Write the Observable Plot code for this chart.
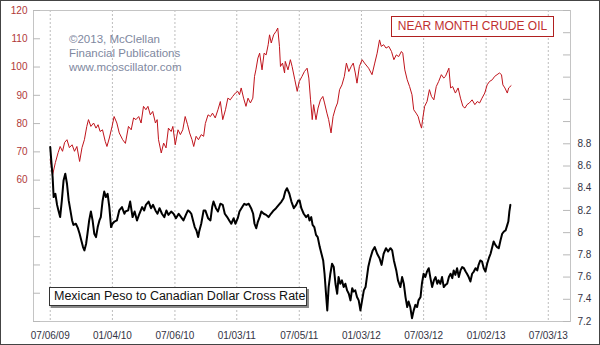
<!DOCTYPE html>
<html><head><meta charset="utf-8">
<script src="https://cdn.jsdelivr.net/npm/d3@7"></script>
<script src="https://cdn.jsdelivr.net/npm/@observablehq/plot@0.6"></script>
<style>
body{margin:0;background:#fff;}
#wrap{position:relative;width:600px;height:345px;overflow:hidden;font-family:Arial,"Liberation Sans",sans-serif;background:#fff;}
#wrap svg{position:absolute;left:0;top:0;}
#border{position:absolute;left:0;top:0;width:598px;height:343px;border:1px solid #444;pointer-events:none;}
.box{position:absolute;background:#fff;white-space:nowrap;box-sizing:border-box;}
#crudeBox{left:391px;top:16px;width:163px;height:21px;border:1px solid #b02020;color:#c03030;font-size:12px;line-height:19px;text-align:center;}
#pesoBox{left:49px;top:287px;width:258px;height:19px;border:1px solid #333;box-shadow:2px 2px 0 #8a8a8a;color:#111;font-size:12.5px;line-height:17px;padding-left:4px;}
#copy{position:absolute;left:69px;top:32px;font-size:11.5px;line-height:14.2px;color:#8088a0;white-space:nowrap;}
</style></head>
<body>
<div id="wrap">
  <div id="chart"></div>
  <div id="copy">©2013, McClellan<br>Financial Publications<br>www.mcoscillator.com</div>
  <div class="box" id="crudeBox">NEAR MONTH CRUDE OIL</div>
  <div class="box" id="pesoBox">Mexican Peso to Canadian Dollar Cross Rate</div>
  <div id="border"></div>
</div>
<script>
// ---- Data (days after 2009-07-06) ----
const startDate = "2009-07-06";
const crudeDays = [0,7,15,23,29,36,42,49,56,64,71,78,86,93,100,107,112,119,127,134,140,146,153,161,166,173,181,187,195,202,212,220,229,237,244,251,259,266,273,280,286,293,300,308,313,317,325,332,339,346,354,359,366,374,381,388,395,402,408,415,420,427,434,442,449,454,462,469,475,483,491,498,505,513,520,527,534,542,549,554,559,566,573,579,586,593,598,602,608,613,620,626,632,638,642,647,654,661,666,671,674,680,686,688,696,703,708,716,723,729,737,744,752,757,762,767,771,778,784,791,798,803,810,815,822,828,835,841,847,854,861,867,874,881,887,893,898,905,913,920,932,942,950,957,964,969,976,983,991,999,1006,1013,1020,1028,1032,1038,1045,1052,1059,1064,1071,1077,1082,1087,1090,1096,1103,1110,1116,1123,1130,1137,1145,1152,1157,1167,1172,1178,1186,1194,1201,1208,1214,1220,1227,1235,1243,1250,1257,1264,1272,1279,1286,1294,1301,1308,1315,1321,1325,1331,1338,1342,1349];
const crudeValues = [67.2,61.9,66.2,69.7,71.9,70.2,73.3,74.3,71.5,72.5,70.2,71.9,66.6,71.5,74.3,79.0,81.4,79.0,80.2,78.4,79.6,77.2,77.8,73.7,71.9,74.9,79.0,82.5,80.2,76.7,74.3,73.0,79.0,77.8,82.0,81.4,82.5,80.2,86.1,84.9,86.1,83.1,84.3,80.2,81.4,74.3,69.6,73.1,71.4,78.4,77.2,79.0,72.5,77.8,76.1,77.8,82.5,79.6,76.7,74.3,71.9,75.5,74.3,76.1,75.5,80.0,83.1,82.5,83.7,82.0,84.9,87.8,81.4,84.9,89.0,88.4,89.6,90.8,91.4,90.2,92.6,89.0,86.1,89.0,87.3,89.0,96.7,99.0,103.2,104.9,99.0,104.9,104.3,107.9,111.4,108.5,111.4,112.6,113.8,107.3,100.2,101.4,97.9,102.0,99.0,102.6,100.2,95.5,91.4,94.9,96.7,98.4,99.6,96.1,88.4,81.4,86.7,81.4,85.5,88.4,89.6,87.3,83.7,81.4,76.7,82.5,85.5,87.3,92.0,93.7,96.7,101.4,98.4,100.2,101.4,97.9,94.3,100.2,102.6,101.4,99.6,97.3,101.4,104.9,109.6,107.3,107.9,106.7,107.3,105.5,102.6,104.3,103.7,105.5,104.9,99.0,95.5,93.1,90.2,84.9,83.7,82.5,80.2,78.4,81.4,86.1,87.8,92.0,89.6,88.4,93.1,94.9,97.3,96.1,96.7,99.6,92.6,93.1,90.8,92.6,89.0,86.1,85.5,86.7,87.3,88.4,86.7,87.8,87.3,89.0,90.8,93.7,94.9,95.5,96.7,97.3,97.9,97.3,93.7,92.6,90.8,92.6,93.4];

const pesoDays = [0,3,7,10,15,20,24,29,34,39,44,49,54,59,64,68,75,81,86,91,96,100,105,109,114,119,124,129,134,139,144,148,153,158,163,168,173,178,182,188,195,202,210,217,220,228,234,241,247,254,261,269,275,280,288,295,301,308,314,320,327,334,340,346,354,361,368,376,383,390,397,403,408,413,418,423,428,433,436,442,449,454,462,469,474,478,485,491,498,505,511,518,524,530,537,542,549,554,562,568,574,581,588,594,598,603,608,613,618,625,632,639,646,654,661,669,677,683,688,693,700,706,713,720,726,730,735,742,749,755,759,764,768,773,778,783,789,794,799,803,808,811,815,820,825,830,835,840,844,849,854,859,864,869,874,879,884,888,893,898,903,908,913,918,923,931,937,944,950,957,964,970,976,983,989,996,1001,1006,1013,1018,1025,1030,1035,1040,1045,1049,1054,1059,1064,1069,1074,1078,1084,1088,1093,1098,1103,1108,1113,1118,1123,1128,1133,1137,1142,1147,1152,1157,1162,1167,1172,1177,1181,1186,1191,1196,1201,1206,1211,1216,1220,1225,1230,1235,1240,1245,1250,1254,1259,1264,1269,1274,1279,1284,1289,1294,1298,1303,1308,1313,1318,1323,1328,1333,1338,1341,1344,1347];
const pesoValues = [8.77,8.65,8.50,8.32,8.35,8.25,8.20,8.14,8.29,8.47,8.53,8.44,8.29,8.20,8.11,8.07,8.08,8.04,7.99,7.93,7.87,7.84,7.90,7.99,8.11,8.19,8.11,7.99,7.96,8.05,8.11,8.14,8.28,8.37,8.32,8.35,8.23,8.05,8.08,8.10,8.11,8.20,8.23,8.17,8.19,8.20,8.28,8.14,8.19,8.11,8.17,8.23,8.20,8.25,8.28,8.22,8.25,8.20,8.17,8.22,8.17,8.14,8.20,8.16,8.19,8.17,8.13,8.17,8.14,8.11,8.16,8.20,8.19,8.17,8.11,8.05,8.02,7.96,8.01,8.08,8.20,8.20,8.13,8.11,8.23,8.28,8.22,8.19,8.26,8.25,8.17,8.14,8.11,8.08,8.13,8.08,8.13,8.19,8.23,8.26,8.25,8.26,8.22,8.17,8.08,8.04,8.10,8.14,8.19,8.17,8.16,8.14,8.17,8.20,8.22,8.25,8.28,8.31,8.37,8.40,8.35,8.28,8.22,8.25,8.29,8.29,8.22,8.17,8.14,8.16,8.11,8.14,8.07,8.05,7.98,7.96,7.87,7.81,7.75,7.63,7.42,7.30,7.51,7.63,7.72,7.69,7.54,7.45,7.60,7.54,7.57,7.51,7.54,7.48,7.45,7.39,7.50,7.47,7.48,7.42,7.39,7.30,7.39,7.48,7.51,7.69,7.77,7.84,7.87,7.81,7.77,7.71,7.81,7.86,7.83,7.86,7.84,7.75,7.66,7.57,7.51,7.60,7.54,7.42,7.33,7.38,7.33,7.23,7.30,7.35,7.33,7.39,7.42,7.54,7.63,7.60,7.65,7.68,7.59,7.51,7.57,7.60,7.54,7.57,7.54,7.60,7.51,7.53,7.54,7.60,7.63,7.59,7.66,7.62,7.68,7.60,7.66,7.69,7.68,7.65,7.63,7.60,7.56,7.63,7.65,7.68,7.66,7.71,7.75,7.74,7.68,7.65,7.72,7.77,7.81,7.87,7.92,7.89,7.87,7.86,7.93,7.99,8.01,8.02,8.07,8.10,8.19,8.25];

const xTickDates = ["2009-07-06","2010-01-04","2010-07-06","2011-01-03","2011-07-05","2012-01-03","2012-07-03","2013-01-02","2013-07-03"];
const xDomain = ["2009-05-18","2013-09-06"];
const leftTicks = [10,20,30,40,50,60,70,80,90,100,110,120];
const leftLabels = [60,70,80,90,100,110,120];
const pesoDomain = [7.2,10.0];
const pesoTicks = [7.2,7.4,7.6,7.8,8.0,8.2,8.4,8.6,8.8,9.0,9.2,9.4,9.6,9.8,10.0];
const pesoLabels = [7.2,7.4,7.6,7.8,8.0,8.2,8.4,8.6,8.8];
const leftDomain = [10,120];

// ---- build ----
const DAY = 864e5;
const t0 = Date.parse(startDate + "T00:00:00Z");
const toDate = d => new Date(t0 + d * DAY);
const crude = crudeDays.map((d, i) => ({date: toDate(d), v: crudeValues[i]}));
const peso = pesoDays.map((d, i) => ({date: toDate(d), v: pesoValues[i]}));
// map peso (right axis) onto the left scale
const toLeft = p => leftDomain[0] + (p - pesoDomain[0]) / (pesoDomain[1] - pesoDomain[0]) * (leftDomain[1] - leftDomain[0]);
const fromLeft = y => pesoDomain[0] + (y - leftDomain[0]) / (leftDomain[1] - leftDomain[0]) * (pesoDomain[1] - pesoDomain[0]);
const xTicks = xTickDates.map(s => new Date(s + "T00:00:00Z"));
const W = 600, ML = 33, MR = 30, innerW = W - ML - MR;

const chart = Plot.plot({
  width: W, height: 345,
  marginLeft: ML, marginRight: MR, marginTop: 10, marginBottom: 24,
  style: {fontFamily: 'Arial, "Liberation Sans", sans-serif', background: "transparent"},
  x: {type: "utc", domain: xDomain.map(s => new Date(s + "T00:00:00Z")), axis: null},
  y: {domain: leftDomain, axis: null},
  marks: [
    Plot.ruleX(xTicks, {stroke: "#bdbdbd", strokeDasharray: "2,2"}),
    Plot.frame({stroke: "#c4c4c4"}),
    Plot.tickY(leftTicks, {y: d => d, stroke: "#b8b8b8", insetRight: innerW - 7}),
    Plot.tickY(pesoTicks, {y: d => toLeft(d), stroke: "#b8b8b8", insetLeft: innerW - 7}),
    Plot.line(crude, {x: "date", y: "v", stroke: "#c0141c", strokeWidth: 1}),
    Plot.line(peso, {x: "date", y: d => toLeft(d.v), stroke: "#000", strokeWidth: 2}),
    Plot.axisY(leftLabels, {anchor: "left", label: null, tickSize: 0, tickPadding: 6, fontSize: 10, color: "#b03838"}),
    Plot.axisY(pesoLabels.map(toLeft), {anchor: "right", label: null, tickSize: 0, tickPadding: 7, fontSize: 10, color: "#333344",
      tickFormat: d => String(+fromLeft(d).toFixed(1))}),
    Plot.axisX(xTicks, {anchor: "bottom", label: null, tickSize: 0, tickPadding: 10, fontSize: 10, color: "#333344",
      tickFormat: d3.utcFormat("%m/%d/%y")})
  ]
});
document.getElementById("chart").appendChild(chart);
</script>
</body></html>
